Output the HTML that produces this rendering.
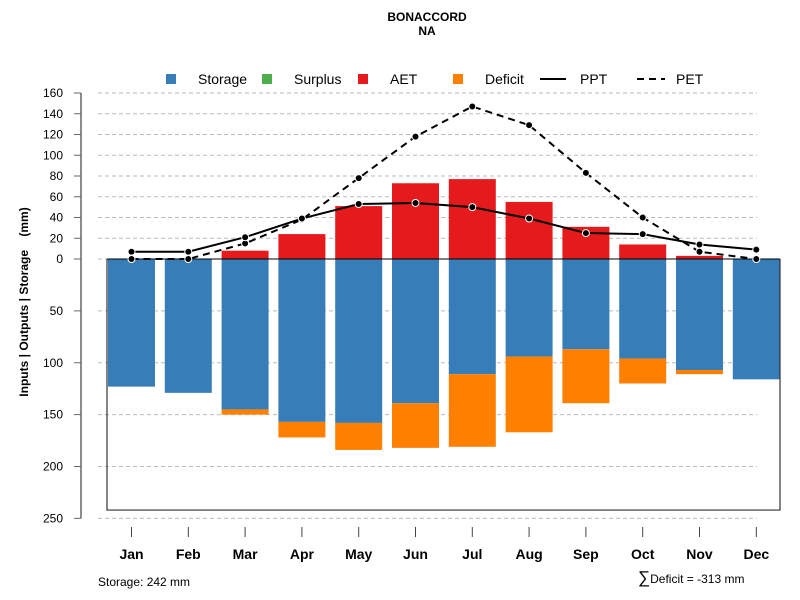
<!DOCTYPE html>
<html><head><meta charset="utf-8"><style>body{margin:0;background:#fff}svg{display:block;font-family:"Liberation Sans",sans-serif}</style></head>
<body>
<svg id="chart" width="800" height="600">
<text x="427" y="21" text-anchor="middle" font-size="12" font-weight="bold">BONACCORD</text>
<text x="427" y="35" text-anchor="middle" font-size="12" font-weight="bold">NA</text>
<g id="grid"></g><g id="bars"></g><g id="axes"></g><g id="lines"></g>
<g font-size="14">
<rect x="166" y="74" width="10" height="10" fill="#377eb8"/><text x="198" y="84">Storage</text>
<rect x="262" y="74" width="10" height="10" fill="#4daf4a"/><text x="294" y="84">Surplus</text>
<rect x="358" y="74" width="10" height="10" fill="#e41a1c"/><text x="390" y="84">AET</text>
<rect x="453" y="74" width="10" height="10" fill="#ff7f00"/><text x="485" y="84">Deficit</text>
<line x1="540" y1="79" x2="566" y2="79" stroke="#000" stroke-width="2"/><text x="580" y="84">PPT</text>
<line x1="637" y1="79" x2="665" y2="79" stroke="#000" stroke-width="2" stroke-dasharray="7,5"/><text x="676" y="84">PET</text>
</g>
<text transform="translate(28,302) rotate(-90)" text-anchor="middle" font-size="12" font-weight="bold" style="white-space:pre">Inputs | Outputs | Storage    (mm)</text>
<text x="98" y="586" font-size="12">Storage: 242 mm</text>
<text x="638" y="583" font-size="12"><tspan font-size="17">∑</tspan>Deficit = -313 mm</text>
</svg>
<script>
const months=["Jan","Feb","Mar","Apr","May","Jun","Jul","Aug","Sep","Oct","Nov","Dec"];
const storage=[123,129,145,157,158,139,111,94,87,96,107,116];
const deficit=[0,0,5,15,26,43,70,73,52,24,4,0];
const aet=[0,0,8,24,51,73,77,55,31,14,3,0];
const ppt=[7,7,21,39,53,54,50,39,25,24,14,9];
const pet=[0,0,15,38,78,118,147,129,83,40,7,0];
const upTicks=[0,20,40,60,80,100,120,140,160];
const downTicks=[50,100,150,200,250];
const storageTotal=242;
const NS="http://www.w3.org/2000/svg";
const Y0=259,K=1.0375;
const yUp=v=>Y0-v*K, yDn=v=>Y0+v*K;
const xc=i=>131.5+i*56.8;
const BW=47;
function mk(p,t,a){const e=document.createElementNS(NS,t);for(const k in a)e.setAttribute(k,a[k]);document.getElementById(p).appendChild(e);return e;}
upTicks.forEach(v=>{const y=yUp(v);
 let g=mk('grid','line',{x1:98,x2:757,y1:y,y2:y,stroke:'#bbb','stroke-dasharray':'4,3'});
 
 mk('axes','line',{x1:74,x2:81,y1:y,y2:y,stroke:'#666'});
 let t=mk('axes','text',{x:63,y:y+4,'text-anchor':'end','font-size':12});t.textContent=v;
 });
downTicks.forEach(v=>{const y=yDn(v);
 let g=mk('grid','line',{x1:98,x2:757,y1:y,y2:y,stroke:'#bbb','stroke-dasharray':'4,3'});
 
 mk('axes','line',{x1:74,x2:81,y1:y,y2:y,stroke:'#666'});
 let t=mk('axes','text',{x:63,y:y+4,'text-anchor':'end','font-size':12});t.textContent=v;
 });
mk('axes','line',{x1:81,x2:81,y1:yUp(160),y2:yDn(250),stroke:'#666','stroke-width':1.5});
months.forEach((m,i)=>{const x=xc(i);
 let b=mk('bars','rect',{x:x-BW/2,y:Y0,width:BW,height:storage[i]*K,fill:'#377eb8'});
 
 if(deficit[i]>0){let d=mk('bars','rect',{x:x-BW/2,y:yDn(storage[i]),width:BW,height:deficit[i]*K,fill:'#ff7f00'});
 }
 if(aet[i]>0){let a=mk('bars','rect',{x:x-BW/2,y:yUp(aet[i]),width:BW,height:aet[i]*K,fill:'#e41a1c'});
 }
 mk('axes','line',{x1:x,x2:x,y1:527,y2:537,stroke:'#444'});
 let t=mk('axes','text',{x:x,y:559,'text-anchor':'middle','font-size':14,'font-weight':'bold'});t.textContent=m;
 });
const bx1=107,bx2=780,by=yDn(storageTotal);
let box=mk('axes','path',{d:`M${bx1},${Y0}V${by}H${bx2}V${Y0}`,fill:'none',stroke:'#333','stroke-width':1.2});

let zl=mk('axes','line',{x1:bx1,x2:bx2,y1:Y0,y2:Y0,stroke:'#000'});

function series(vals,name,dash){
 const pts=vals.map((v,i)=>[xc(i),yUp(v)]);
 let p=mk('lines','polyline',{points:pts.map(p=>p.join(',')).join(' '),fill:'none',stroke:'#000','stroke-width':2,'stroke-dasharray':dash});
 
 pts.forEach(q=>{let c=mk('lines','circle',{cx:q[0],cy:q[1],r:3.5,fill:'#000',stroke:'#fff','stroke-width':1});
 });
}
series(pet,'pet','7,5');
series(ppt,'ppt','none');
</script>
</body></html>
